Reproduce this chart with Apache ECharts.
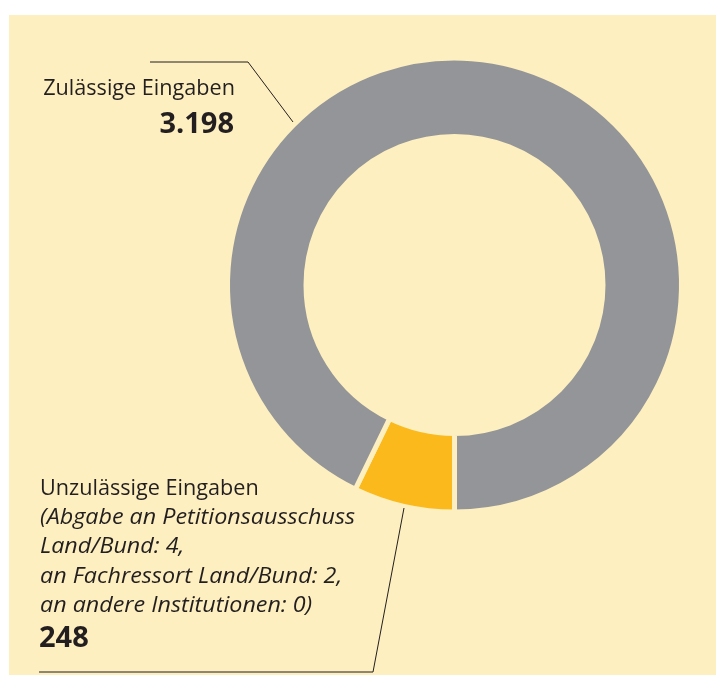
<!DOCTYPE html>
<html>
<head>
<meta charset="utf-8">
<script src="https://cdn.jsdelivr.net/npm/echarts@6/dist/echarts.min.js"></script>
<style>
html,body{margin:0;padding:0;background:#fff;}
#c{width:716px;height:675px;}
</style>
</head>
<body>
<div id="c"></div>
<script>
// Data
const categories = ['Unzulässige Eingaben', 'Zulässige Eingaben'];
const values = [248, 3198];
const valueLabels = ['248', '3.198'];
const colors = ['#fbb91b', '#939598'];
const detailLines = [
  '(Abgabe an Petitionsausschuss',
  'Land/Bund: 4,',
  'an Fachressort Land/Bund: 2,',
  'an andere Institutionen: 0)'
];

const BG = '#fdefbf';
const INK = '#231f20';
const FONT = '"Open Sans", "Noto Sans", sans-serif';

const chart = echarts.init(document.getElementById('c'), null, {renderer: 'canvas'});

const elements = [
  {type: 'rect', z: -10, shape: {x: 9, y: 15, width: 720, height: 670}, style: {fill: BG}},
  // top leader line
  {type: 'polyline', z: 10, shape: {points: [[150, 62], [248, 62], [293, 122]]}, style: {stroke: INK, lineWidth: 1, fill: null}},
  // bottom leader line
  {type: 'polyline', z: 10, shape: {points: [[39, 672], [373, 672], [404, 508]]}, style: {stroke: INK, lineWidth: 1, fill: null}},
  {type: 'text', z: 10, x: 235, y: 89.5, scaleX: 1.03, style: {text: categories[1], font: '21px ' + FONT, fill: INK, align: 'right', verticalAlign: 'middle'}},
  {type: 'text', z: 10, x: 234, y: 124.5, style: {text: valueLabels[1], font: 'bold 29px ' + FONT, fill: INK, align: 'right', verticalAlign: 'middle'}},
  {type: 'text', z: 10, x: 40, y: 489, scaleX: 1.03, style: {text: categories[0], font: '21px ' + FONT, fill: INK, align: 'left', verticalAlign: 'middle'}}
];
detailLines.forEach(function (t, i) {
  elements.push({type: 'text', z: 10, x: 40, y: 518 + i * 29.3, scaleX: 1.11, style: {text: t, font: 'italic 21px ' + FONT, fill: INK, align: 'left', verticalAlign: 'middle'}});
});
elements.push({type: 'text', z: 10, x: 39, y: 638.5, style: {text: valueLabels[0], font: 'bold 29px ' + FONT, fill: INK, align: 'left', verticalAlign: 'middle'}});

chart.setOption({
  backgroundColor: '#ffffff',
  animation: false,
  graphic: {elements: elements},
  series: [{
    type: 'pie',
    z: 2,
    center: [454.5, 285],
    radius: [148.5, 227],
    startAngle: 270,
    clockwise: true,
    avoidLabelOverlap: false,
    label: {show: false},
    labelLine: {show: false},
    emphasis: {disabled: true},
    itemStyle: {borderColor: BG, borderWidth: 5},
    data: categories.map(function (c, i) {
      return {name: c, value: values[i], itemStyle: {color: colors[i]}};
    })
  }]
});
</script>
</body>
</html>
